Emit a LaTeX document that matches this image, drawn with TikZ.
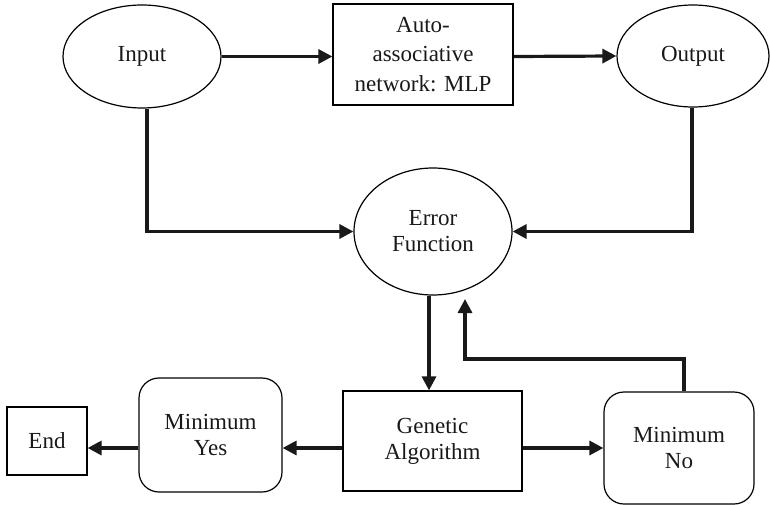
\documentclass[tikz,border=0pt]{standalone}
\usepackage{fontspec}
\setmainfont{Liberation Serif}
\usetikzlibrary{shapes.geometric,arrows.meta}
\begin{document}
\begin{tikzpicture}[x=1pt,y=-1pt,
  every node/.style={font=\fontsize{23}{26}\selectfont, text=black!90, align=center, inner sep=0pt},
  ell/.style={draw, ellipse, line width=1.2pt},
  rbox/.style={draw, rectangle, line width=1.2pt},
  roundbox/.style={draw, rectangle, rounded corners=20pt, line width=1.2pt},
  arr/.style={line width=3.2pt, draw=black!90, -{Triangle[length=14pt,width=14pt]}}]
\useasboundingbox (0,0) rectangle (770,505);
\node[ell, minimum width=158pt, minimum height=103pt] (in) at (142,56.5) {Input};
\node[rbox, minimum width=180pt, minimum height=101pt, font=\fontsize{23}{29.5}\selectfont] (mlp) at (423,54.5) {Auto-\\associative\\network: MLP};
\node[ell, minimum width=152pt, minimum height=102pt] (out) at (693,56) {Output};
\node[ell, minimum width=158pt, minimum height=127pt] (err) at (433,231.5) {Error\\Function};
\node[rbox, minimum width=179pt, minimum height=100pt] (ga) at (432.5,441) {Genetic\\Algorithm};
\node[roundbox, minimum width=150pt, minimum height=112pt] (mno) at (679,448) {Minimum\\No};
\node[roundbox, minimum width=143pt, minimum height=114pt] (myes) at (210.5,435) {Minimum\\Yes};
\node[rbox, minimum width=80pt, minimum height=68pt] (end) at (47,441) {End};
\coordinate (fbc) at (465,359);
\coordinate (fbtip) at (465,299);
\draw[arr] (in.east) -- (mlp.west |- in.east);
\draw[arr] (mlp.east |- in.east) -- (out.west);
\draw[arr] ([xshift=5pt]in.south) |- (err.west);
\draw[arr] ([xshift=-1pt]out.south) |- (err.east);
\draw[arr] ([xshift=-4pt]err.south) -- ([xshift=-4pt]err.south |- ga.north);
\draw[arr] (ga.east |- mno) -- (mno.west);
\draw[arr] (ga.west |- mno) -- (myes.east |- mno);
\draw[arr] (myes.west |- mno) -- (end.east |- mno);
\draw[arr] ([xshift=5pt]mno.north) |- (fbc) -- (fbtip);
\end{tikzpicture}
\end{document}
